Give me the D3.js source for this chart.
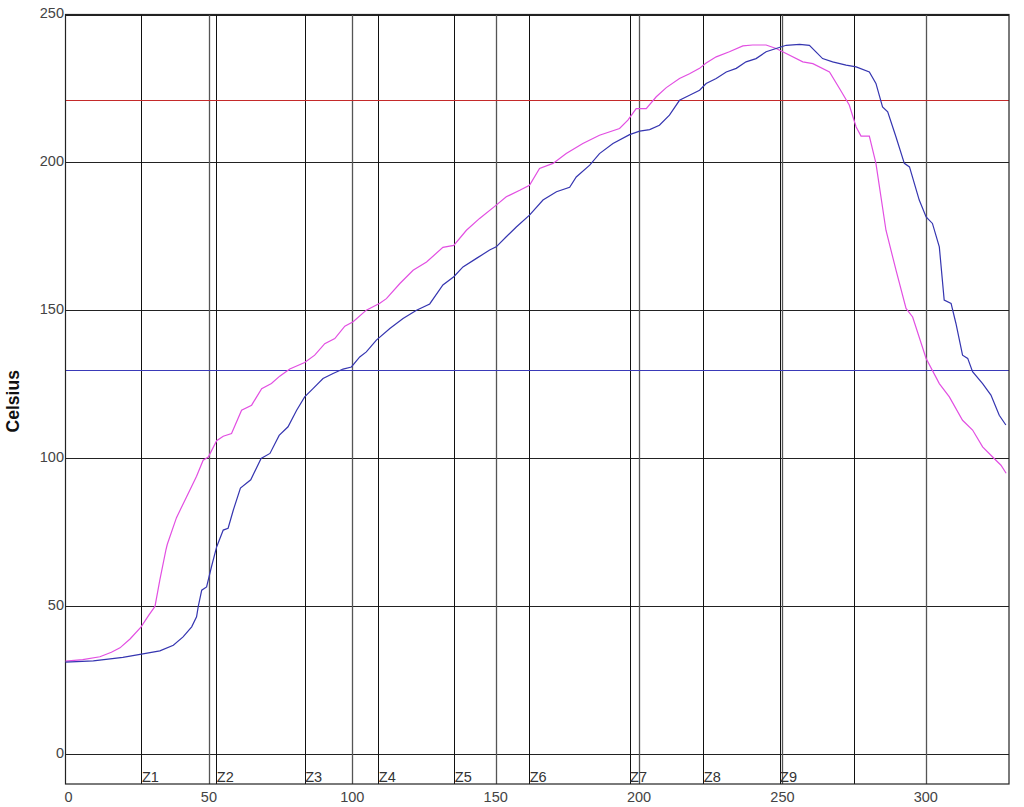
<!DOCTYPE html>
<html>
<head>
<meta charset="utf-8">
<script src="https://cdn.jsdelivr.net/npm/d3@7"></script>
<style>
  body { margin: 0; background: #fff; }
  svg text { font-family: "Liberation Sans", Arial, sans-serif; }
</style>
</head>
<body>
<svg id="chart" width="1024" height="807"></svg>
<script>
// profile data: [seconds, celsius]
const pinkProfile = [[0,31.5],[6,32],[12,33],[16,34.5],[19,36],[22.5,39],[26.3,43],[29,47],[31.2,50],[32.9,59],[35,69],[35.5,71],[38.7,80],[42.2,87],[45.7,94],[48,99.4],[49.8,100.5],[52.7,106],[55,107.5],[57.9,108.4],[61.4,116.3],[64.9,118],[68.4,123.6],[71.8,125.3],[74.7,127.8],[78.2,130.2],[83.4,132.4],[86.9,134.9],[90.4,138.8],[93.9,140.5],[97.4,144.7],[100.3,146.2],[104.9,150.1],[109.6,152.4],[111.9,154],[116.6,159.1],[121.2,163.6],[125.9,166.4],[131.6,171.3],[135.4,172],[139.8,177.1],[144.4,181.1],[150.2,185.6],[153.7,188.4],[158.4,190.6],[161.8,192.3],[165.3,198],[170,199.7],[174.6,203],[180.4,206.4],[186.2,209.2],[193.2,211.5],[196.1,214.3],[199,218.2],[202.5,218.2],[206,222.2],[209.5,225.3],[214.1,228.4],[217.6,230],[221.1,231.8],[223.4,233.6],[226.9,235.7],[231.5,237.4],[236.2,239.4],[239.6,239.7],[244.3,239.7],[247.8,238.5],[251.3,236.8],[257.1,234],[260.6,233.4],[266.4,230.6],[269.9,225],[273.3,219.4],[275.7,212],[277.4,208.9],[280.3,208.9],[282.6,199.7],[286.1,177.1],[289.6,163.6],[293.1,150.7],[295.4,147.8],[300.1,133.8],[304.7,125.3],[308.2,120.8],[312.8,112.9],[316.3,109.6],[319.8,103.9],[323.3,100.5],[326.2,97.7],[328,95]];

const blueProfile = [[0,31.2],[9.7,31.6],[20,32.8],[26,33.8],[32.9,35],[37.6,36.9],[41,39.7],[44,43.1],[45.7,46.5],[46.3,50],[47.5,55.5],[49.2,56.6],[50.9,63.4],[52.7,70.1],[55,75.8],[56.7,76.4],[58.5,82.5],[61,90],[64.6,92.8],[68.2,100],[71.3,101.7],[74.5,107.8],[77.6,110.7],[80.6,116.3],[83.4,120.8],[86.3,123.6],[89.8,127],[93.3,128.7],[96.8,130.2],[99.7,130.9],[102.6,134.3],[104.9,136],[108.4,140],[113.1,143.9],[117.7,147.3],[122.4,150.1],[127,152.2],[131.6,158.6],[135.4,161.4],[138.6,164.7],[143.3,167.6],[147.9,170.4],[150.2,171.5],[153.7,174.9],[157.2,178.2],[161.8,182.2],[166.5,187.3],[171.2,190.1],[175.8,191.6],[178.1,195.1],[182.8,199.1],[186.2,203],[190.9,206.4],[196.7,209.4],[200.2,210.6],[203.7,211.1],[207.1,212.6],[210.6,216],[214.1,221],[217.6,222.7],[221.1,224.4],[223.4,226.7],[226.9,228.4],[230.4,230.6],[233.9,231.8],[237.3,234],[240.8,235.1],[244.3,237.4],[247.8,238.5],[251.3,239.6],[256,239.9],[259.4,239.6],[264,235.1],[267.5,234],[272.2,232.9],[275.7,232.3],[280.3,230.6],[282.6,226.7],[284.9,218.8],[286.7,217.1],[289.6,208.6],[292.5,199.7],[294.3,198.5],[297.7,187.3],[300.1,181.6],[302.3,179.4],[304.7,171.5],[306.4,153.5],[308.8,152.4],[310.5,145.6],[312.8,134.9],[314.6,133.8],[316.3,129.3],[319.8,125.3],[322.7,121.4],[325.6,114.6],[327.9,111.3]];

// zone boundaries
const zonePos = [26.5, 52.6, 83.4, 109.1, 135.6, 161.7, 196.7, 222.4, 249, 275.1];
const zoneLabels = ['Z1', 'Z2', 'Z3', 'Z4', 'Z5', 'Z6', 'Z7', 'Z8', 'Z9', ''];

// limit lines
const limitValues = [221, 130];
const limitColors = ['#c42a2a', '#3a3ab8'];

const xTicks = [0, 50, 100, 150, 200, 250, 300];
const yTicks = [0, 50, 100, 150, 200, 250];

const margin = {left: 65.5, top: 14.5, right: 15, bottom: 23};
const width = 1024, height = 807;

const svg = d3.select('#chart');

const x = d3.scaleLinear().domain([0, 329]).range([margin.left, width - margin.right]);
const y = d3.scaleLinear().domain([-10, 250]).range([height - margin.bottom, margin.top]);

// grid
let g = svg.append('g');
g.selectAll('.hgrid').data(yTicks).enter().append('line')
    .attr('x1', x(0)).attr('x2', x(329))
    .attr('y1', d => Math.round(y(d)) + 0.5).attr('y2', d => Math.round(y(d)) + 0.5)
    .attr('stroke', '#222').attr('stroke-width', 1);
g.selectAll('.vgrid').data(xTicks.slice(1)).enter().append('line')
    .attr('x1', d => Math.round(x(d)) + 0.5).attr('x2', d => Math.round(x(d)) + 0.5)
    .attr('y1', y(250)).attr('y2', y(-10))
    .attr('stroke', '#555').attr('stroke-width', 1.3);

// zones
g.selectAll('.zone').data(zonePos).enter().append('line')
    .attr('x1', d => Math.round(x(d)) + 0.5).attr('x2', d => Math.round(x(d)) + 0.5)
    .attr('y1', y(250)).attr('y2', y(-10))
    .attr('stroke', '#111').attr('stroke-width', 1);
g.selectAll('.zlabel').data(zonePos).enter().append('text')
    .attr('x', d => x(d) + 0.5)
    .attr('y', height - margin.bottom - 2)
    .attr('font-size', 14.5)
    .attr('fill', '#333')
    .text((d, i) => zoneLabels[i]);

// limit lines
g.selectAll('.limit').data(limitValues).enter().append('line')
    .attr('x1', x(0)).attr('x2', x(329))
    .attr('y1', d => Math.round(y(d)) + 0.5).attr('y2', d => Math.round(y(d)) + 0.5)
    .attr('stroke', (d, i) => limitColors[i]).attr('stroke-width', 1);

// frame
svg.append('rect')
    .attr('x', x(0)).attr('y', y(250))
    .attr('width', x(329) - x(0)).attr('height', y(-10) - y(250))
    .attr('fill', 'none').attr('stroke', '#222').attr('stroke-width', 1.2);

// curves
let line = d3.line().x(d => x(d[0])).y(d => y(d[1]));
svg.append('path').datum(pinkProfile)
    .attr('d', line).attr('fill', 'none')
    .attr('stroke', '#e24fe2').attr('stroke-width', 1.2);
svg.append('path').datum(blueProfile)
    .attr('d', line).attr('fill', 'none')
    .attr('stroke', '#3535b0').attr('stroke-width', 1.2);

// axis labels
svg.selectAll('.xlab').data(xTicks).enter().append('text')
    .attr('x', d => x(d) + (d === 0 ? 3 : 0))
    .attr('y', height - 9)
    .attr('text-anchor', 'middle')
    .attr('dominant-baseline', 'middle')
    .attr('font-size', 14.5).attr('fill', '#444')
    .text(d => d);
svg.selectAll('.ylab').data(yTicks).enter().append('text')
    .attr('x', margin.left - 1.5)
    .attr('y', d => y(d))
    .attr('text-anchor', 'end')
    .attr('dominant-baseline', 'middle')
    .attr('font-size', 14.5).attr('fill', '#444')
    .text(d => d);

svg.append('text')
    .attr('transform', 'translate(14,' + ((y(250) + y(-10)) / 2 + 2) + ') rotate(-90)')
    .attr('text-anchor', 'middle')
    .attr('dominant-baseline', 'middle')
    .attr('font-size', 17.5).attr('font-weight', 'bold').attr('fill', '#111')
    .text('Celsius');
</script>
</body>
</html>
